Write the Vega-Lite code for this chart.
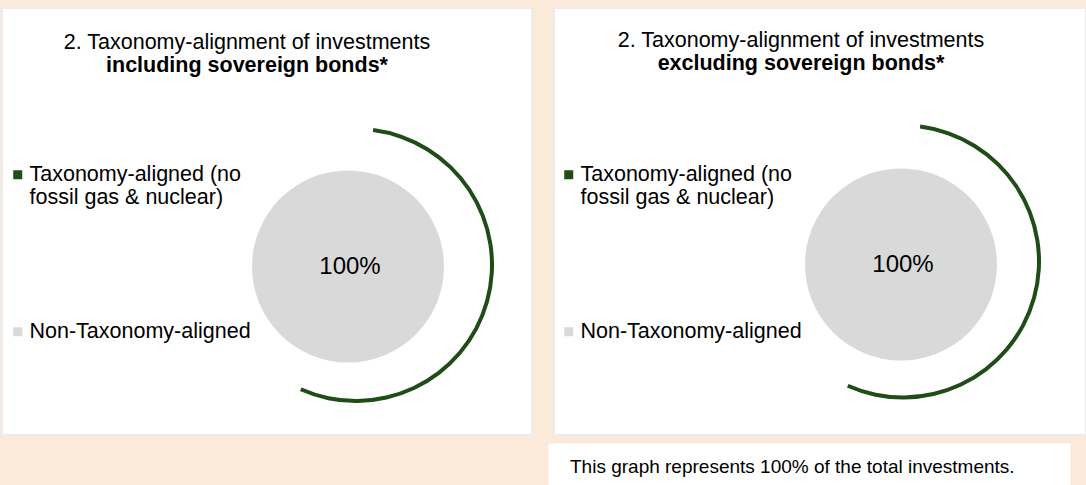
{
  "$schema": "https://vega.github.io/schema/vega-lite/v6.json",
  "background": "#FBE9D9",
  "padding": {"left": 1, "top": 7, "right": 0, "bottom": 0},
  "autosize": {"type": "pad"},
  "spacing": 6,
  "config": {
    "font": "Liberation Sans",
    "view": {"stroke": null}
  },
  "datasets": {
    "incl": [
      {"category": "Taxonomy-aligned (no fossil gas & nuclear)", "share": 0},
      {"category": "Non-Taxonomy-aligned", "share": 1}
    ],
    "excl": [
      {"category": "Taxonomy-aligned (no fossil gas & nuclear)", "share": 0},
      {"category": "Non-Taxonomy-aligned", "share": 1}
    ],
    "note": [
      {"text": "This graph represents 100% of the total investments."}
    ]
  },
  "vconcat": [
    {
      "hconcat": [
        {
          "width": 530,
          "height": 427,
          "data": {"name": "incl"},
          "view": {"fill": "white", "stroke": "#ECECEC", "strokeWidth": 2},
          "title": {
            "text": "2. Taxonomy-alignment of investments",
            "subtitle": "including sovereign bonds*",
            "anchor": "middle",
            "dx": -20,
            "offset": -68,
            "font": "Liberation Sans",
            "fontSize": 21.5,
            "fontWeight": "normal",
            "color": "black",
            "subtitleFont": "Liberation Sans",
            "subtitleFontSize": 21.5,
            "subtitleFontWeight": "bold",
            "subtitleColor": "black",
            "subtitlePadding": 1
          },
          "encoding": {
            "color": {
              "field": "category",
              "type": "nominal",
              "scale": {
                "domain": ["Taxonomy-aligned (no fossil gas & nuclear)", "Non-Taxonomy-aligned"],
                "range": ["#1E4D16", "#D9D9D9"]
              },
              "legend": {
                "orient": "none",
                "legendX": 5,
                "legendY": 156,
                "title": null,
                "direction": "vertical",
                "padding": 0,
                "symbolType": "square",
                "symbolSize": 81,
                "symbolStrokeWidth": 0,
                "symbolOpacity": 1,
                "labelFont": "Liberation Sans",
                "labelFontSize": 21.5,
                "labelColor": "black",
                "labelOffset": 1,
                "labelLimit": 400,
                "rowPadding": 111,
                "labelExpr": "datum.label == 'Taxonomy-aligned (no fossil gas & nuclear)' ? ['Taxonomy-aligned (no', 'fossil gas & nuclear)'] : datum.label"
              }
            }
          },
          "layer": [
            {
              "mark": {"type": "arc", "radius": 96, "xOffset": 81, "yOffset": 45},
              "encoding": {"theta": {"field": "share", "type": "quantitative", "stack": true}}
            },
            {
              "transform": [{"filter": "datum.category == 'Taxonomy-aligned (no fossil gas & nuclear)'"}],
              "mark": {"type": "arc", "theta": 0.126, "theta2": 3.56, "radius": 138, "radius2": 134, "xOffset": 89, "yOffset": 43.5}
            },
            {
              "transform": [{"filter": "datum.share > 0"}],
              "mark": {"type": "text", "fontSize": 24, "xOffset": 83, "yOffset": 45},
              "encoding": {
                "text": {"field": "share", "type": "quantitative", "format": ".0%"},
                "color": {"value": "black"}
              }
            }
          ]
        },
        {
          "width": 532,
          "height": 427,
          "data": {"name": "excl"},
          "view": {"fill": "white", "stroke": "#ECECEC", "strokeWidth": 2},
          "title": {
            "text": "2. Taxonomy-alignment of investments",
            "subtitle": "excluding sovereign bonds*",
            "anchor": "middle",
            "dx": -19,
            "offset": -66,
            "font": "Liberation Sans",
            "fontSize": 21.5,
            "fontWeight": "normal",
            "color": "black",
            "subtitleFont": "Liberation Sans",
            "subtitleFontSize": 21.5,
            "subtitleFontWeight": "bold",
            "subtitleColor": "black",
            "subtitlePadding": 1
          },
          "encoding": {
            "color": {
              "field": "category",
              "type": "nominal",
              "scale": {
                "domain": ["Taxonomy-aligned (no fossil gas & nuclear)", "Non-Taxonomy-aligned"],
                "range": ["#1E4D16", "#D9D9D9"]
              },
              "legend": {
                "orient": "none",
                "legendX": 4,
                "legendY": 156,
                "title": null,
                "direction": "vertical",
                "padding": 0,
                "symbolType": "square",
                "symbolSize": 81,
                "symbolStrokeWidth": 0,
                "symbolOpacity": 1,
                "labelFont": "Liberation Sans",
                "labelFontSize": 21.5,
                "labelColor": "black",
                "labelOffset": 1,
                "labelLimit": 400,
                "rowPadding": 111,
                "labelExpr": "datum.label == 'Taxonomy-aligned (no fossil gas & nuclear)' ? ['Taxonomy-aligned (no', 'fossil gas & nuclear)'] : datum.label"
              }
            }
          },
          "layer": [
            {
              "mark": {"type": "arc", "radius": 96, "xOffset": 81, "yOffset": 43},
              "encoding": {"theta": {"field": "share", "type": "quantitative", "stack": true}}
            },
            {
              "transform": [{"filter": "datum.category == 'Taxonomy-aligned (no fossil gas & nuclear)'"}],
              "mark": {"type": "arc", "theta": 0.126, "theta2": 3.56, "radius": 138, "radius2": 134, "xOffset": 83, "yOffset": 40}
            },
            {
              "transform": [{"filter": "datum.share > 0"}],
              "mark": {"type": "text", "fontSize": 24, "xOffset": 83, "yOffset": 43},
              "encoding": {
                "text": {"field": "share", "type": "quantitative", "format": ".0%"},
                "color": {"value": "black"}
              }
            }
          ]
        }
      ],
      "spacing": 20,
      "resolve": {"scale": {"color": "independent"}, "legend": {"color": "independent"}}
    },
    {
      "hconcat": [
        {
          "width": 524,
          "height": 44,
          "data": {"name": "note"},
          "view": {"fill": "transparent", "stroke": "transparent"},
          "mark": {"type": "text", "opacity": 0},
          "encoding": {"text": {"value": ""}}
        },
        {
          "width": 522,
          "height": 44,
          "data": {"name": "note"},
          "view": {"fill": "white", "stroke": "transparent"},
          "mark": {"type": "text", "align": "left", "fontSize": 19, "dx": -239, "dy": 2, "color": "black"},
          "encoding": {"text": {"field": "text", "type": "nominal"}}
        }
      ],
      "spacing": 20
    }
  ]
}
